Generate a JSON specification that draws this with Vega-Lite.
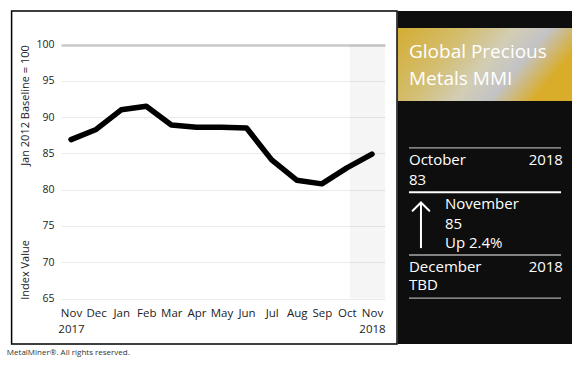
{
  "$schema": "https://vega.github.io/schema/vega-lite/v6.json",
  "background": "white",
  "padding": {"left": 6, "top": 10, "right": 0, "bottom": 0},
  "spacing": -2,
  "config": {"view": {"stroke": null}, "font": "Open Sans", "axis": {"labelOverlap": false}, "axisX": {"labelOverlap": false}},
  "title": {"text": "MetalMiner®. All rights reserved.", "orient": "bottom", "anchor": "start", "fontSize": 8, "fontWeight": "normal", "color": "#333", "offset": 4, "dx": -4},
  "hconcat": [
    {
      "width": 324,
      "height": 333,
      "layer": [
        {
          "data": {"values": [
            {"i": 0, "month": "Nov 2017", "value": 86.9},
            {"i": 1, "month": "Dec", "value": 88.3},
            {"i": 2, "month": "Jan", "value": 91.0},
            {"i": 3, "month": "Feb", "value": 91.5},
            {"i": 4, "month": "Mar", "value": 88.9},
            {"i": 5, "month": "Apr", "value": 88.6},
            {"i": 6, "month": "May", "value": 88.6},
            {"i": 7, "month": "Jun", "value": 88.5},
            {"i": 8, "month": "Jul", "value": 84.1},
            {"i": 9, "month": "Aug", "value": 81.3},
            {"i": 10, "month": "Sep", "value": 80.8},
            {"i": 11, "month": "Oct", "value": 83.0},
            {"i": 12, "month": "Nov 2018", "value": 84.9}
          ]},
          "mark": {"type": "line", "color": "#000", "strokeWidth": 5.5, "strokeJoin": "round", "strokeCap": "round"},
          "encoding": {
            "x": {
              "field": "i", "type": "quantitative",
              "scale": {"domain": [-0.4, 12.52], "nice": false, "zero": false},
              "axis": {
                "title": null, "values": [0,1,2,3,4,5,6,7,8,9,10,11,12], "tickCount": 13,
                "labelExpr": "[['Nov','2017'],'Dec','Jan','Feb','Mar','Apr','May','Jun','Jul','Aug','Sep','Oct',['Nov','2018']][datum.value]",
                "domain": false, "ticks": false, "grid": false, "offset": -45,
                "labelFontSize": 11.5, "labelColor": "#222", "labelPadding": 8, "labelLineHeight": 16,
                "labelOverlap": false, "labelFlush": false, "labelBound": false
              }
            },
            "y": {
              "field": "value", "type": "quantitative",
              "scale": {"domain": [58.73, 104.62], "nice": false, "zero": false},
              "axis": {
                "title": "Index Value\u00a0\u00a0\u00a0\u00a0\u00a0\u00a0\u00a0\u00a0\u00a0\u00a0\u00a0\u00a0\u00a0\u00a0\u00a0\u00a0\u00a0\u00a0\u00a0\u00a0\u00a0\u00a0\u00a0\u00a0\u00a0\u00a0Jan 2012 Baseline = 100",
                "titleFontSize": 11, "titleFontWeight": "normal", "titleColor": "#222", "titlePadding": 5,
                "titleY": 161,
                "values": [65,70,75,80,85,90,95,100],
                "domain": false, "ticks": false, "grid": true,
                "labelFontSize": 10.5, "labelColor": "#222", "labelPadding": 7,
                "labelOverlap": false, "labelFlush": false, "labelBound": false,
                "gridColor": {"condition": {"test": "datum.value === 100", "value": "#c8c8c8"}, "value": "#ebebeb"},
                "gridWidth": {"condition": {"test": "datum.value === 100", "value": 2.5}, "value": 1}
              }
            }
          }
        },
        {
          "data": {"values": [{}]},
          "mark": {"type": "rect", "fill": "#000", "opacity": 0.04},
          "encoding": {
            "x": {"datum": 11.12, "type": "quantitative"},
            "x2": {"datum": 12.52},
            "y": {"datum": 65, "type": "quantitative"},
            "y2": {"datum": 100}
          }
        },
        {
          "data": {"values": [{}]},
          "mark": {"type": "rect", "fill": "transparent", "stroke": "#000", "strokeWidth": 1.5},
          "encoding": {
            "x": {"datum": -2.37, "type": "quantitative"},
            "x2": {"datum": 13.0},
            "y": {"datum": 104.62, "type": "quantitative"},
            "y2": {"datum": 58.73}
          }
        }
      ]
    },
    {
      "width": 174,
      "height": 333,
      "data": {"values": [{}]},
      "layer": [
        {
          "mark": {"type": "rect", "fill": "#0e0e0e"},
          "encoding": {
            "x": {"datum": 0, "type": "quantitative", "scale": {"domain": [0, 100], "nice": false, "zero": false}, "axis": null},
            "x2": {"datum": 100},
            "y": {"datum": 0, "type": "quantitative", "scale": {"domain": [100, 0], "nice": false, "zero": false}, "axis": null},
            "y2": {"datum": 100}
          }
        },
        {
          "mark": {"type": "rect", "color": {"gradient": "linear", "x1": 0, "y1": 0, "x2": 1, "y2": 0.35,
            "stops": [
              {"offset": 0, "color": "#d4ad33"},
              {"offset": 0.35, "color": "#d3bd6e"},
              {"offset": 0.6, "color": "#d2cdb4"},
              {"offset": 0.78, "color": "#c3c3c6"},
              {"offset": 1, "color": "#d9ad2a"}
            ]}},
          "encoding": {
            "x": {"datum": 0, "type": "quantitative"},
            "x2": {"datum": 100},
            "y": {"datum": 5.1, "type": "quantitative"},
            "y2": {"datum": 27.0}
          }
        },
        {
          "mark": {"type": "text", "text": ["Global Precious", "Metals MMI"], "align": "left", "baseline": "alphabetic", "fontSize": 19, "lineHeight": 27, "color": "#fff"},
          "encoding": {"x": {"datum": 6.3, "type": "quantitative"}, "y": {"datum": 14.1, "type": "quantitative"}}
        },
        {
          "mark": {"type": "rule", "color": "#aaa", "strokeWidth": 1.2},
          "encoding": {"x": {"datum": 6.3, "type": "quantitative"}, "x2": {"datum": 93.7}, "y": {"datum": 41.1, "type": "quantitative"}}
        },
        {
          "mark": {"type": "rule", "color": "#fff", "strokeWidth": 2},
          "encoding": {"x": {"datum": 6.3, "type": "quantitative"}, "x2": {"datum": 93.7}, "y": {"datum": 54.4, "type": "quantitative"}}
        },
        {
          "mark": {"type": "rule", "color": "#aaa", "strokeWidth": 1.5},
          "encoding": {"x": {"datum": 6.3, "type": "quantitative"}, "x2": {"datum": 93.7}, "y": {"datum": 73.3, "type": "quantitative"}}
        },
        {
          "mark": {"type": "rule", "color": "#aaa", "strokeWidth": 1.2},
          "encoding": {"x": {"datum": 6.3, "type": "quantitative"}, "x2": {"datum": 93.7}, "y": {"datum": 86.2, "type": "quantitative"}}
        },
        {
          "mark": {"type": "text", "text": "October", "align": "left", "baseline": "alphabetic", "fontSize": 15, "color": "#fff"},
          "encoding": {"x": {"datum": 6.3, "type": "quantitative"}, "y": {"datum": 46.2, "type": "quantitative"}}
        },
        {
          "mark": {"type": "text", "text": "2018", "align": "right", "baseline": "alphabetic", "fontSize": 15, "color": "#fff"},
          "encoding": {"x": {"datum": 94.8, "type": "quantitative"}, "y": {"datum": 46.2, "type": "quantitative"}}
        },
        {
          "mark": {"type": "text", "text": "83", "align": "left", "baseline": "alphabetic", "fontSize": 15, "color": "#fff"},
          "encoding": {"x": {"datum": 6.3, "type": "quantitative"}, "y": {"datum": 52.3, "type": "quantitative"}}
        },
        {
          "mark": {"type": "text", "text": ["November", "85", "Up 2.4%"], "align": "left", "baseline": "alphabetic", "fontSize": 15, "lineHeight": 19.5, "color": "#fff"},
          "encoding": {"x": {"datum": 27.0, "type": "quantitative"}, "y": {"datum": 59.5, "type": "quantitative"}}
        },
        {
          "mark": {"type": "rule", "color": "#fff", "strokeWidth": 2},
          "encoding": {"x": {"datum": 13.2, "type": "quantitative"}, "y": {"datum": 57.6, "type": "quantitative"}, "y2": {"datum": 71.2}}
        },
        {
          "mark": {"type": "rule", "color": "#fff", "strokeWidth": 2, "strokeCap": "round"},
          "encoding": {"x": {"datum": 13.2, "type": "quantitative"}, "x2": {"datum": 8.4}, "y": {"datum": 57.5, "type": "quantitative"}, "y2": {"datum": 60.0}}
        },
        {
          "mark": {"type": "rule", "color": "#fff", "strokeWidth": 2, "strokeCap": "round"},
          "encoding": {"x": {"datum": 13.2, "type": "quantitative"}, "x2": {"datum": 18.0}, "y": {"datum": 57.5, "type": "quantitative"}, "y2": {"datum": 60.0}}
        },
        {
          "mark": {"type": "text", "text": "December", "align": "left", "baseline": "alphabetic", "fontSize": 15, "color": "#fff"},
          "encoding": {"x": {"datum": 6.3, "type": "quantitative"}, "y": {"datum": 78.4, "type": "quantitative"}}
        },
        {
          "mark": {"type": "text", "text": "2018", "align": "right", "baseline": "alphabetic", "fontSize": 15, "color": "#fff"},
          "encoding": {"x": {"datum": 94.8, "type": "quantitative"}, "y": {"datum": 78.4, "type": "quantitative"}}
        },
        {
          "mark": {"type": "text", "text": "TBD", "align": "left", "baseline": "alphabetic", "fontSize": 15, "color": "#fff"},
          "encoding": {"x": {"datum": 6.3, "type": "quantitative"}, "y": {"datum": 83.8, "type": "quantitative"}}
        }
      ]
    }
  ]
}
